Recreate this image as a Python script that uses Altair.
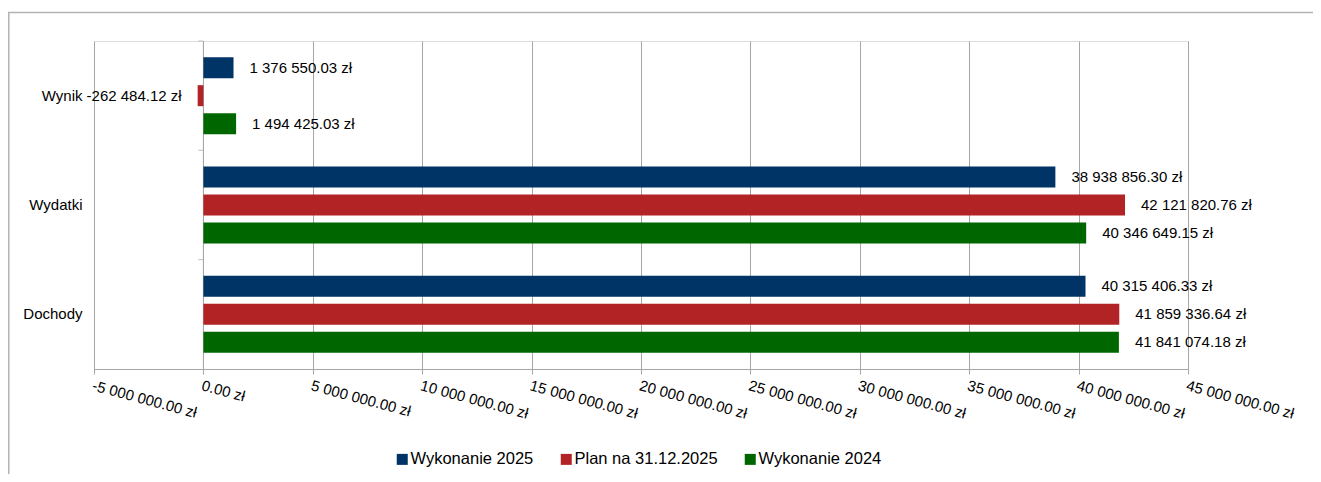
import altair as alt
import pandas as pd

categories = ["Wynik", "Wydatki", "Dochody"]
series = ["Wykonanie 2025", "Plan na 31.12.2025", "Wykonanie 2024"]
colors = ["#003366", "#b22326", "#006600"]

wykonanie_2025 = [1376550.03, 38938856.30, 40315406.33]
plan_2025 = [-262484.12, 42121820.76, 41859336.64]
wykonanie_2024 = [1494425.03, 40346649.15, 41841074.18]

tick_values = [-5e6, 0, 5e6, 10e6, 15e6, 20e6, 25e6, 30e6, 35e6, 40e6, 45e6]

rows = []
for s, vals in zip(series, [wykonanie_2025, plan_2025, wykonanie_2024]):
    for c, v in zip(categories, vals):
        rows.append({"cat": c, "series": s, "v": v})
df = pd.DataFrame(rows)

FONT = "Liberation Sans"
GRID = "#a6a6a6"
FS = 15

fmt = "replace(replace(format({x}, ',.2f'), regexp(',', 'g'), ' '), '\u2212', '-') + ' z\u0142'"

base = alt.Chart(df).transform_calculate(label=fmt.format(x="datum.v"))

y_enc = alt.Y("cat:N", sort=categories, title=None,
              scale=alt.Scale(paddingInner=0, paddingOuter=0),
              axis=alt.Axis(domain=False, ticks=False, labelPadding=12,
                            labelFontSize=FS, labelFont=FONT, labelColor="#000"))
yoff_enc = alt.YOffset("series:N", sort=series,
                       scale=alt.Scale(paddingInner=0.25, paddingOuter=0.577))
x_enc = alt.X("v:Q", title=None,
              scale=alt.Scale(domain=[-5e6, 45e6], nice=False, zero=False),
              axis=alt.Axis(values=tick_values, grid=True, gridColor=GRID,
                            domainColor=GRID, tickColor=GRID, tickSize=5,
                            labelAngle=15, labelAlign="left", labelBaseline="top",
                            labelPadding=4, labelFontSize=FS, labelFont=FONT,
                            labelColor="#000", labelOverlap=False, labelFlush=False,
                            labelExpr=fmt.format(x="datum.value")))

bars = base.mark_bar(size=21).encode(
    y=y_enc, yOffset=yoff_enc, x=x_enc,
    color=alt.Color("series:N", sort=series,
                    scale=alt.Scale(domain=series, range=colors),
                    legend=alt.Legend(title=None, orient="none", legendX=300, legendY=410,
                                      direction="horizontal", symbolType="square",
                                      symbolSize=121, symbolStrokeWidth=0,
                                      labelFontSize=16.5, labelFont=FONT,
                                      labelColor="#000", labelOffset=0,
                                      columnPadding=24)),
)

text_pos = base.transform_filter("datum.v >= 0").mark_text(
    align="left", baseline="middle", dx=16, fontSize=FS, font=FONT, color="#000"
).encode(y=alt.Y("cat:N", sort=categories), yOffset=alt.YOffset("series:N", sort=series),
         x="v:Q", text="label:N")

text_neg = base.transform_filter("datum.v < 0").mark_text(
    align="right", baseline="middle", dx=-16, fontSize=FS, font=FONT, color="#000"
).encode(y=alt.Y("cat:N", sort=categories), yOffset=alt.YOffset("series:N", sort=series),
         x="v:Q", text="label:N")

zero_rule = alt.Chart(alt.Data(values=[{}])).mark_rule(color=GRID, strokeWidth=1).encode(
    x=alt.datum(0))

cat_df = pd.DataFrame({"cat": categories})
ticks = alt.Chart(cat_df).mark_tick(orient="horizontal", size=5, xOffset=-2.5,
                                    thickness=1, color=GRID).encode(
    y=alt.Y("cat:N", sort=categories, bandPosition=0), x=alt.datum(0))

frame = alt.Chart(alt.Data(values=[{}])).mark_rect(
    fill=None, stroke="#b3b3b3", strokeWidth=1.5).encode(
    x=alt.value(-85.25), x2=alt.value(1300), y=alt.value(-28.5), y2=alt.value(500))

chart = alt.layer(frame, zero_rule, bars, ticks, text_pos, text_neg).properties(
    width=1094, height=328,
    padding={"left": 86, "top": 33, "right": 125, "bottom": 105},
    autosize=alt.AutoSizeParams(type="none"),
).configure_view(stroke=None).configure(font=FONT)

chart.save("out.html", embed_options={"renderer": "svg", "actions": False})
